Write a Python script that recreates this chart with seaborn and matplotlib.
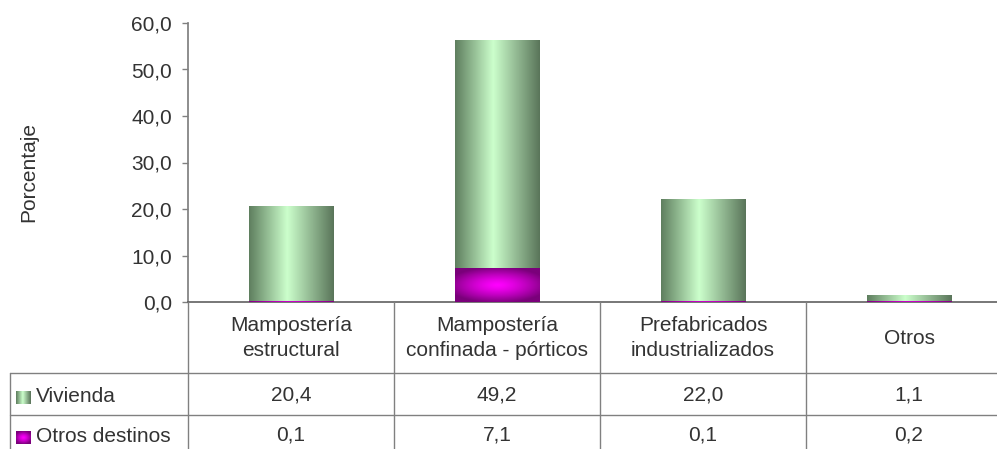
import numpy as np
import pandas as pd
import matplotlib
matplotlib.use("Agg")
import matplotlib.pyplot as plt
import matplotlib.transforms as mtransforms
import seaborn as sns
from matplotlib.colors import LinearSegmentedColormap, to_rgb
from matplotlib.lines import Line2D

categories = ["Mampostería\nestructural", "Mampostería\nconfinada - pórticos",
              "Prefabricados\nindustrializados", "Otros"]
vivienda = [20.4, 49.2, 22.0, 1.1]
otros_destinos = [0.1, 7.1, 0.1, 0.2]
series_names = ["Vivienda", "Otros destinos"]
y_ticks = [0, 10, 20, 30, 40, 50, 60]

W, H = 997, 449
TEXT = "#333333"
LINE = "#808080"
FS = 15

sns.set_theme(style="white")
plt.rcParams["font.family"] = ["Liberation Sans", "DejaVu Sans"]

green_cmap = LinearSegmentedColormap.from_list(
    "green", [(0, "#5f7f5f"), (0.45, "#ccffcc"), (1, "#5a755a")])


def green_img(nx=200):
    return green_cmap(np.linspace(0, 1, nx))[None, :, :3]


def magenta_img(nx=120, ny=40):
    xx, yy = np.meshgrid(np.linspace(-1, 1, nx), np.linspace(-1, 1, ny))
    d = np.clip(np.sqrt(xx ** 2 + (yy / 0.9) ** 2) / 1.2, 0, 1)
    c0 = np.array(to_rgb("#ff00ff"))
    c1 = np.array(to_rgb("#7a007a"))
    t = d[..., None] ** 1.3
    return c0 * (1 - t) + c1 * t


def fy(px):
    return 1 - px / H


fig = plt.figure(figsize=(W / 100, H / 100), dpi=100)
ax = fig.add_axes([188 / W, fy(302), 824 / W, 279 / H])

df = pd.DataFrame({"categoria": categories, "Vivienda": vivienda, "Otros destinos": otros_destinos})
df["total"] = df["Vivienda"] + df["Otros destinos"]

sns.barplot(data=df, x="categoria", y="total", color="#a8d8a8", width=0.41,
            ax=ax, zorder=2, linewidth=0)
n_back = len(ax.patches)
sns.barplot(data=df, x="categoria", y="Otros destinos", color="#ff00ff", width=0.41,
            ax=ax, zorder=3, linewidth=0)

# gradient fills on top of the seaborn bars
for i, p in enumerate(ax.patches):
    x0, y0, w, h = p.get_x(), p.get_y(), p.get_width(), p.get_height()
    img = green_img() if i < n_back else magenta_img()
    ax.imshow(img, extent=[x0, x0 + w, y0, y0 + h], aspect="auto",
              zorder=p.get_zorder() + 0.5, interpolation="bilinear")

ax.set_xlim(-0.5, len(categories) - 0.5)
ax.set_ylim(0, 60)
ax.set_aspect("auto")
ax.set_xticks([])
ax.set_xlabel("")
ax.set_ylabel("")
ax.set_yticks(y_ticks)
ax.set_yticklabels([f"{v:.1f}".replace(".", ",") for v in y_ticks])
ax.tick_params(axis="y", left=True, direction="out", length=4.5, width=1,
               color=LINE, pad=7, labelsize=FS, labelcolor=TEXT)
for s in ["top", "right"]:
    ax.spines[s].set_visible(False)
ax.spines["left"].set_color(LINE)
ax.spines["bottom"].set_color("#606060")
ax.spines["bottom"].set_linewidth(1.2)

fig.text(29 / W, fy(172), "Porcentaje", rotation=90, ha="center", va="center",
         fontsize=FS, color=TEXT)

# data table below the axis
blend = mtransforms.blended_transform_factory(ax.transData, fig.transFigure)
for xb in np.arange(len(categories)) - 0.5:
    fig.add_artist(Line2D([xb, xb], [fy(302), 0], transform=blend, color=LINE, lw=1))
for yb in [373, 415]:
    fig.add_artist(Line2D([10 / W, 1], [fy(yb), fy(yb)], transform=fig.transFigure,
                          color=LINE, lw=1))
fig.add_artist(Line2D([10 / W, 10 / W], [fy(373), 0], transform=fig.transFigure,
                      color=LINE, lw=1))

for i, cat in enumerate(categories):
    fig.text(i, fy(338), cat, transform=blend, ha="center", va="center",
             fontsize=FS, color=TEXT, linespacing=1.45)
    fig.text(i, fy(395), f"{vivienda[i]:.1f}".replace(".", ","), transform=blend,
             ha="center", va="center", fontsize=FS, color=TEXT)
    fig.text(i, fy(435), f"{otros_destinos[i]:.1f}".replace(".", ","), transform=blend,
             ha="center", va="center", fontsize=FS, color=TEXT)

# row labels with legend keys
for name, yc, img in [(series_names[0], 397, green_img(30)), (series_names[1], 437, magenta_img(20, 20))]:
    kax = fig.add_axes([16 / W, fy(yc + 7), 15 / W, 13 / H])
    kax.imshow(img, aspect="auto", interpolation="bilinear")
    kax.axis("off")
    fig.text(36 / W, fy(yc), name, ha="left", va="center", fontsize=FS, color=TEXT)

fig.savefig("out.png", dpi=100)
